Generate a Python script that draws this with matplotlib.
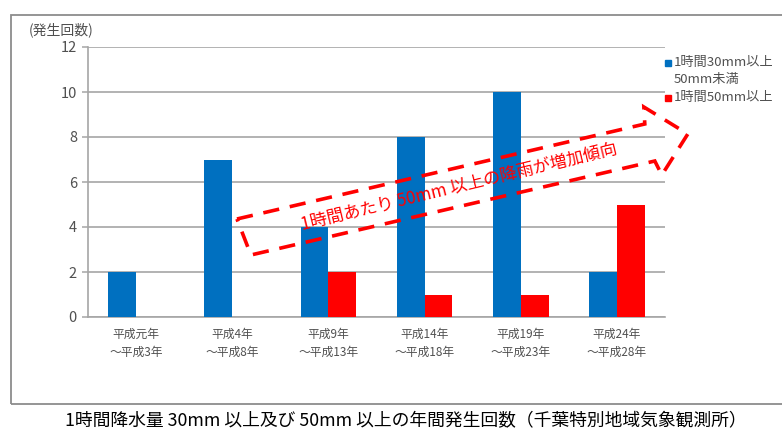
import matplotlib
matplotlib.use("Agg")
import matplotlib.pyplot as plt
import numpy as np
from matplotlib.patches import Polygon, Rectangle

plt.rcParams['font.family'] = ['Noto Sans CJK JP', 'DejaVu Sans']

categories = ["平成元年\n～平成3年", "平成4年\n～平成8年", "平成9年\n～平成13年",
              "平成14年\n～平成18年", "平成19年\n～平成23年", "平成24年\n～平成28年"]
series_30_50 = [2, 7, 4, 8, 10, 2]
series_50 = [0, 0, 2, 1, 1, 5]
label_30_50 = "1時間30mm以上\n50mm未満"
label_50 = "1時間50mm以上"
yticks = [0, 2, 4, 6, 8, 10, 12]

BLUE = "#0070C0"
RED = "#FF0000"
GRID = "#A6A6A6"
TXT = "#505050"

fig = plt.figure(figsize=(7.82, 4.32), dpi=100)
ax = fig.add_axes([88/782, 1-317/432, (665-88)/782, (317-47)/432])

x = np.arange(len(categories))
w = 0.29
ax.bar(x - w/2, series_30_50, width=w, color=BLUE, label=label_30_50, zorder=3)
ax.bar(x + w/2, series_50, width=w, color=RED, label=label_50, zorder=3)

ax.set_xlim(-0.5, len(categories) - 0.5)
ax.set_ylim(0, 12)
ax.set_yticks(yticks)
ax.set_yticklabels([str(v) for v in yticks], fontsize=10.5, color=TXT)
ax.set_xticks(x)
ax.set_xticklabels(categories, fontsize=8.5, color=TXT, linespacing=1.45)
ax.tick_params(axis='x', length=0, pad=8)
ax.tick_params(axis='y', length=4, width=1.1, color=GRID, pad=4)
ax.yaxis.grid(True, color=GRID, linewidth=1.2, zorder=0)
for s in ['top', 'right']:
    ax.spines[s].set_visible(False)
for s in ['left', 'bottom']:
    ax.spines[s].set_color(GRID)
    ax.spines[s].set_linewidth(1.2)

# dashed arrow annotation
arrow_pts = [(1.049, 4.356), (5.290, 8.578), (5.280, 9.333), (5.737, 8.133),
             (5.467, 6.311), (5.394, 6.933), (1.194, 2.756)]
poly = Polygon(arrow_pts, closed=True, fill=False, edgecolor=RED, linewidth=2.6,
               linestyle=(0, (4.5, 3.0)), zorder=5, clip_on=False)
ax.add_patch(poly)
ax.text(3.357, 5.73, "1時間あたり 50mm 以上の降雨が増加傾向", color=RED, fontsize=12.3,
        rotation=13.6, rotation_mode='anchor', ha='center', va='center', zorder=6)

# y-axis unit label
fig.text(29/782, 1-30/432, "(発生回数)", fontsize=10, color=TXT, ha='left', va='center')

# legend (manual layout)
legend_items = [(label_30_50, BLUE, 63), (label_50, RED, 98)]
for lbl, col, py in legend_items:
    fig.patches.append(Rectangle(((668-3)/782, 1-(py+3)/432), 6/782, 6/432,
                                 transform=fig.transFigure, color=col))
    fig.text(674/782, 1-(py-7)/432, lbl, fontsize=9.5, color=TXT,
             ha='left', va='top', linespacing=1.35)

# outer border
fig.patches.append(Rectangle((11/782, 1-404/432), 1.0, (404-15)/432,
                             transform=fig.transFigure, fill=False,
                             edgecolor="#8C8C8C", linewidth=1.3, clip_on=True))

# caption
fig.text(406/782, 1-421/432,
         "1時間降水量 30mm 以上及び 50mm 以上の年間発生回数（千葉特別地域気象観測所）",
         fontsize=12.8, color="black", ha='center', va='center')

fig.savefig("out.png", dpi=100)
